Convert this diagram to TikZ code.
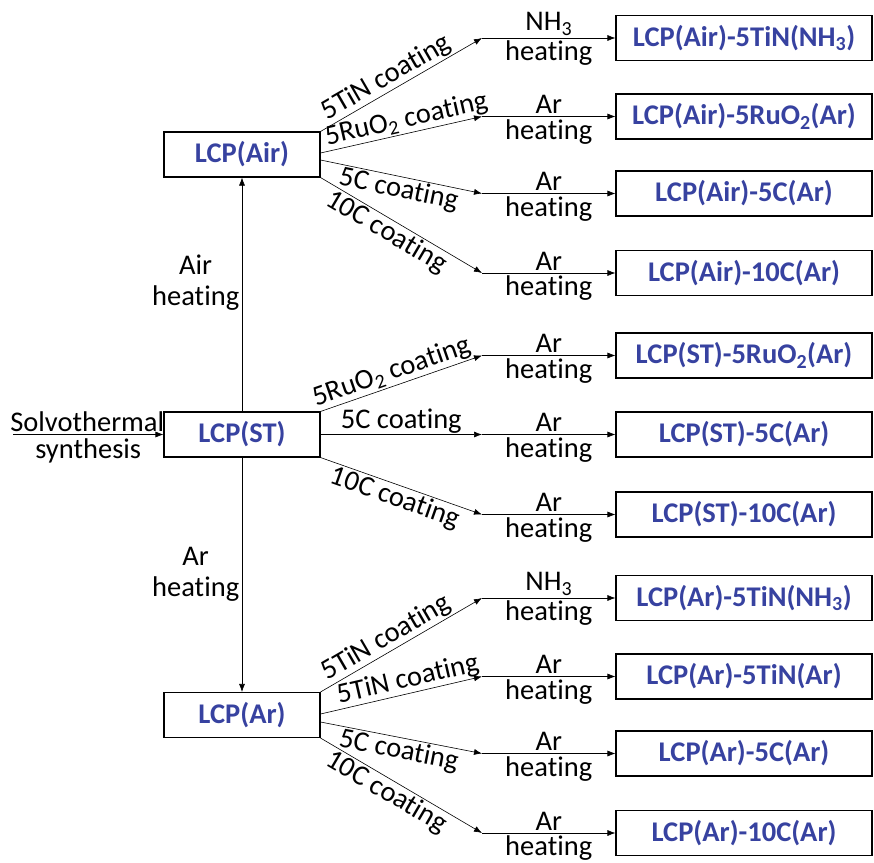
\documentclass[tikz,border=0pt]{standalone}
\usepackage{fontspec}
\setmainfont[Ligatures={NoCommon}]{Carlito}
\usetikzlibrary{arrows.meta,calc}
\definecolor{lcpblue}{RGB}{55,66,160}
\begin{document}
\begin{tikzpicture}[x=1pt,y=-1pt,
  font=\fontsize{28.5}{31}\selectfont,
  box/.style={draw, line width=1.1pt, minimum height=45pt, text=lcpblue,
    font=\fontsize{28.5}{31}\selectfont\bfseries, inner sep=0pt},
  lbox/.style={box, minimum width=156pt},
  rbox/.style={box, minimum width=256pt},
  conn/.style={line width=0.6pt, -{Latex[length=8pt,width=6pt]}},
  lab/.style={sloped, inner sep=1pt},
  two/.style={align=center, inner sep=2.5pt}
]
\useasboundingbox (0,0) rectangle (874,862);

% left boxes
\node[lbox] (air) at (242,154.5) {LCP(Air)};
\node[lbox] (st)  at (242,434.5) {LCP(ST)};
\node[lbox] (ar)  at (242,715)   {LCP(Ar)};

% right boxes
\node[rbox] (r1) at (744,38)    {LCP(Air)-5TiN(NH\textsubscript{3})};
\node[rbox] (r2) at (744,116.5) {LCP(Air)-5RuO\textsubscript{2}(Ar)};
\node[rbox] (r3) at (744,193.5) {LCP(Air)-5C(Ar)};
\node[rbox] (r4) at (744,273)   {LCP(Air)-10C(Ar)};
\node[rbox] (s1) at (744,355.5) {LCP(ST)-5RuO\textsubscript{2}(Ar)};
\node[rbox] (s2) at (744,434.5) {LCP(ST)-5C(Ar)};
\node[rbox] (s3) at (744,514.5) {LCP(ST)-10C(Ar)};
\node[rbox] (a1) at (744,598)   {LCP(Ar)-5TiN(NH\textsubscript{3})};
\node[rbox] (a2) at (744,676.5) {LCP(Ar)-5TiN(Ar)};
\node[rbox] (a3) at (744,753.5) {LCP(Ar)-5C(Ar)};
\node[rbox] (a4) at (744,833)   {LCP(Ar)-10C(Ar)};

% junction points
\foreach \n in {r1,r2,r3,r4,s1,s2,s3,a1,a2,a3,a4}
  \coordinate (j\n) at ($(482,0)!(\n.west)!(482,10)$);

% solvothermal input
\coordinate (start) at (13,434.5);
\draw[conn] (start) -- node[two, above, xshift=-1pt] {Solvothermal} node[two, below, inner sep=3.5pt] {synthesis} (st.west);

% vertical heating arrows
\draw[conn] (st.north) -- node[two, pos=0.55, anchor=east, xshift=0pt] {Air\\heating} (air.south);
\draw[conn] (st.south) -- node[two, pos=0.5, anchor=east, xshift=0pt] {Ar\\heating} (ar.north);

% LCP(Air) branches
\draw[conn] (air.north east) -- node[lab, above, pos=0.45] {5TiN coating} (jr1);
\draw[conn] ($(air.east)+(0,-1.5)$) -- node[lab, above, pos=0.55] {5RuO\textsubscript{2} coating} (jr2);
\draw[conn] ($(air.east)+(0,5.5)$) -- node[lab, below, pos=0.5] {5C coating} (jr3);
\draw[conn] (air.south east) -- node[lab, below, pos=0.45] {10C coating} (jr4);

% LCP(ST) branches
\draw[conn] (st.north east) -- node[lab, above, pos=0.47] {5RuO\textsubscript{2} coating} (js1);
\draw[conn] (st.east) -- node[lab, above, pos=0.5] {5C coating} (js2);
\draw[conn] (st.south east) -- node[lab, below, pos=0.49] {10C coating} (js3);

% LCP(Ar) branches
\draw[conn] (ar.north east) -- node[lab, above, pos=0.45] {5TiN coating} (ja1);
\draw[conn] ($(ar.east)+(0,-1)$) -- node[lab, above, pos=0.56] {5TiN coating} (ja2);
\draw[conn] ($(ar.east)+(0,7)$) -- node[lab, below, pos=0.5] {5C coating} (ja3);
\draw[conn] (ar.south east) -- node[lab, below, pos=0.45] {10C coating} (ja4);

% heating arrows to final products
\foreach \n/\g in {r1/NH\textsubscript{3},r2/Ar,r3/Ar,r4/Ar,s1/Ar,s2/Ar,s3/Ar,a1/NH\textsubscript{3},a2/Ar,a3/Ar,a4/Ar}
  \draw[conn] (j\n) -- node[two, above] {\g} node[two, below] {heating} (\n.west);
\end{tikzpicture}
\end{document}
